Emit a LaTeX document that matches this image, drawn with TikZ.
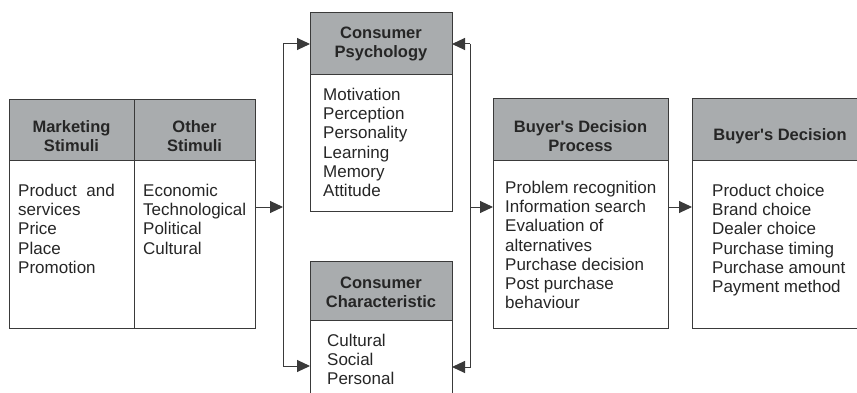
\documentclass[tikz,border=0pt]{standalone}
\usepackage{fontspec}
\setmainfont{Liberation Sans}
\usepackage{tikz}
\usetikzlibrary{%
  positioning
 ,arrows.meta
 ,calc
}
\definecolor{hdgray}{HTML}{A9ACAE}
\definecolor{ln}{HTML}{3A3A3A}
\tikzstyle{hd}=[draw=ln,fill=hdgray,line width=1pt,inner sep=0pt,outer sep=0pt,anchor=north west]
\tikzstyle{bd}=[draw=ln,line width=1pt,inner sep=0pt,outer sep=0pt]
\tikzstyle{ttl}=[font=\bfseries\fontsize{16.5}{19}\selectfont,align=center,inner sep=0pt,text=black!85]
\tikzstyle{itm}=[font=\fontsize{17}{19.2}\selectfont,align=left,inner sep=0pt,anchor=north west,text=black!85]
\tikzstyle{ar}=[draw=ln,line width=1pt,-{Triangle[length=13pt,width=12pt]}]

\begin{document}
\begin{tikzpicture}[x=1pt,y=-1pt]
  \useasboundingbox (0,0) rectangle (857,393);
  \clip (0,0) rectangle (857,393);
% stimuli
  \node[hd,minimum width=125pt,minimum height=61pt] (mkh) at (9,100) {};
  \node[hd,minimum width=121pt,minimum height=61pt] (oth) at (134,100) {};
  \node[bd,minimum width=125pt,minimum height=167pt,below=0pt of mkh] (mkb) {};
  \node[bd,minimum width=121pt,minimum height=167pt,below=0pt of oth] (otb) {};
  \node[ttl] (mkt) at ([yshift=-6pt]mkh.center) {Marketing\\Stimuli};
  \node[ttl] (ott) at ([yshift=-6pt]oth.center) {Other\\Stimuli};
  \node[itm] (mki) at (18,184) {Product\hspace{5pt} and\\services\\Price\\Place\\Promotion};
  \node[itm] (oti) at (143,184) {Economic\\Technological\\Political\\Cultural};
% consumer
  \node[hd,minimum width=142pt,minimum height=62pt] (cph) at (310,13) {};
  \node[bd,minimum width=142pt,minimum height=136pt,below=0pt of cph] (cpb) {};
  \node[ttl] (cpt) at (cph.center) {Consumer\\Psychology};
  \node[itm] (cpi) at (323,88) {Motivation\\Perception\\Personality\\Learning\\Memory\\Attitude};
  \node[hd,minimum width=142pt,minimum height=59pt] (cch) at (310,261) {};
  \node[bd,minimum width=142pt,minimum height=90pt,below=0pt of cch] (ccb) {};
  \node[ttl] (cct) at ([yshift=-1.5pt]cch.center) {Consumer\\Characteristic};
  \node[itm] (cci) at (327,334) {Cultural\\Social\\Personal};
% buyer
  \node[hd,minimum width=175pt,minimum height=62pt] (bdph) at (493,99) {};
  \node[bd,minimum width=175pt,minimum height=167pt,below=0pt of bdph] (bdpb) {};
  \node[ttl] (bdpt) at ([yshift=-6pt]bdph.center) {Buyer\textquotesingle s Decision\\Process};
  \node[itm] (bdpi) at (505,181) {Problem recognition\\Information search\\Evaluation of\\alternatives\\Purchase decision\\Post purchase\\behaviour};
  \node[hd,minimum width=176pt,minimum height=62pt] (bdh) at (692,99) {};
  \node[bd,minimum width=176pt,minimum height=167pt,below=0pt of bdh] (bdb) {};
  \node[ttl] (bdt) at ([yshift=-6pt]bdh.center) {Buyer\textquotesingle s Decision};
  \node[itm] (bdi) at (712,184) {Product choice\\Brand choice\\Dealer choice\\Purchase timing\\Purchase amount\\Payment method};
% 
  \coordinate (jl)  at (283,207);
  \coordinate (jlb) at (283,366);
  \coordinate (jr)  at (470,207);
  \coordinate (jrb) at (470,367);
  \draw[ar] (otb.east |- jl) -- (jl);
  \draw[ar] (jl |- cph.west) -- (cph.west);
  \draw[ar] (jl |- cph.west) -- (jlb) -- (jlb -| ccb.west);
  \draw[ar] (jr |- cph.east) -- (cph.east);
  \draw[ar] (jr |- cph.east) -- (jrb) -- (jrb -| ccb.east);
  \draw[ar] (jr) -- (jr -| bdpb.west);
  \draw[ar] (bdpb.east |- jr) -- (bdb.west |- jr);
\end{tikzpicture}
\end{document}
